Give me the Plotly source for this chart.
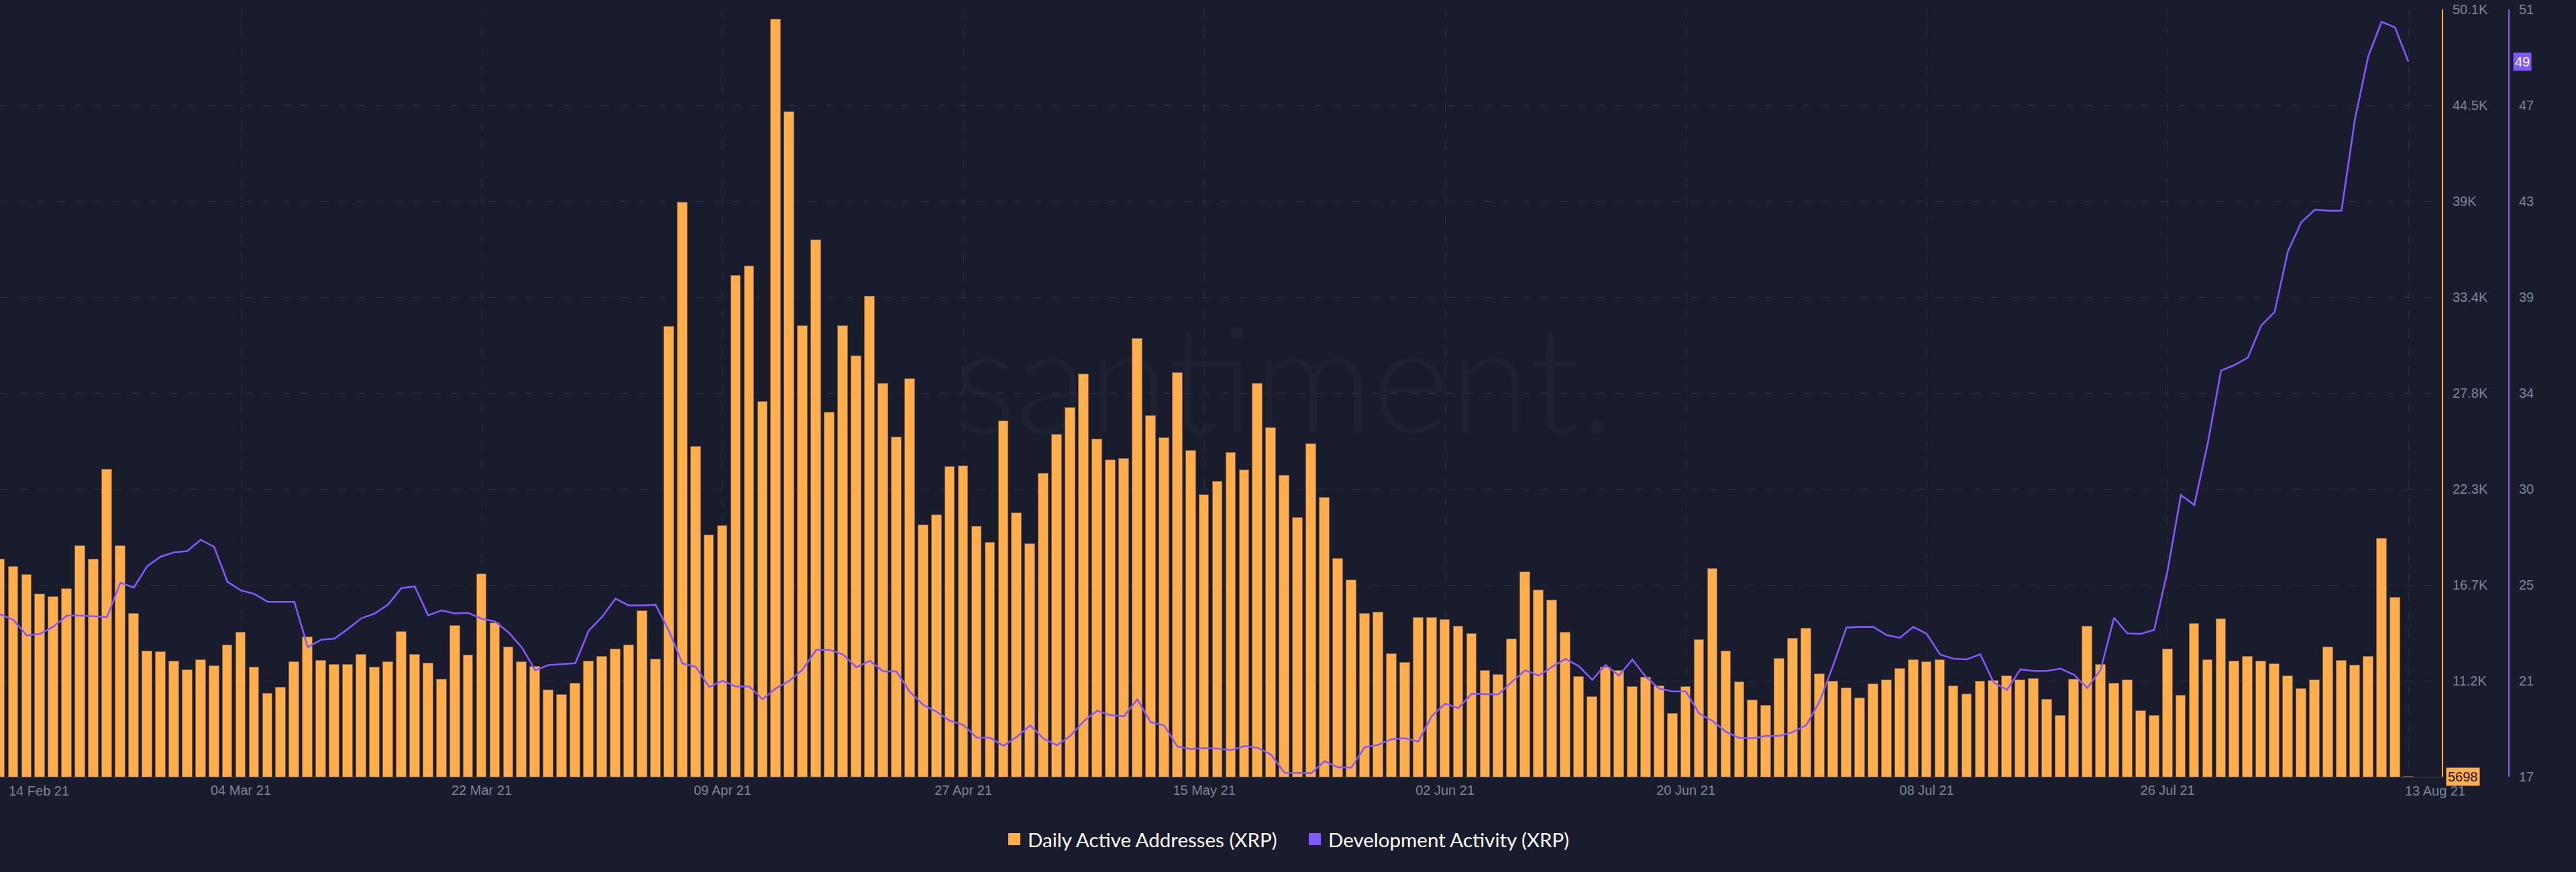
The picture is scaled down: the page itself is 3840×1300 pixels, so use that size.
import pandas as pd
import plotly.graph_objects as go

# ---------------- data ----------------
start_date = "2021-02-14"
daily_active = [
    # Feb 14-28
    18291, 17860, 17396, 16253, 16104, 16584, 19037, 18258, 23461, 19037, 15126, 12956, 12906, 12376, 11879,
    # Mar
    12459, 12111, 13304, 14033, 12011, 10503, 10851, 12343, 13790, 12423, 12164, 12177, 12758, 12035, 12332,
    14100, 12771, 12242, 11338, 14449, 12719, 17418, 14591, 13197, 12319, 12061, 10719, 10448, 11080, 12358, 12642,
    # Apr
    13068, 13287, 15288, 12474, 31742, 38911, 24776, 19660, 20209, 34691, 35240, 27378, 49519, 44172, 31771,
    36743, 26771, 31771, 30037, 33477, 28447, 25354, 28707, 20267, 20845, 23620, 23649, 20180, 19255, 26250,
    # May
    20960, 19183, 23239, 25487, 27030, 28972, 25201, 24001, 24096, 31029, 26572, 25296, 29048, 24573, 22001,
    22782, 24439, 23430, 28439, 25868, 23106, 20668, 24934, 21830, 18306, 17088, 15145, 15202, 12810, 12293, 14901,
    # Jun
    14901, 14797, 14397, 13958, 11816, 11584, 13636, 17547, 16488, 15895, 14036, 11467, 10332, 12022, 11842,
    10887, 11455, 10938, 9364, 10887, 13610, 17727, 12965, 11183, 10138, 9802, 12539, 13700, 14294, 11648,
    # Jul
    11196, 10822, 10254, 11054, 11287, 11945, 12461, 12332, 12461, 10925, 10474, 11209, 11261, 11506, 11300,
    11377, 10151, 9222, 11313, 14397, 12164, 11075, 11277, 9485, 9225, 13069, 10410, 14543, 12433, 14803, 12375,
    # Aug 1-13
    12664, 12375, 12202, 11508, 10785, 11277, 13185, 12404, 12144, 12635, 19457, 16075, 5698,
]
dev_activity = [
    # Feb 14-28
    24.20, 23.95, 23.26, 23.33, 23.66, 24.14, 24.14, 24.12, 24.08, 25.60, 25.38, 26.33, 26.75, 26.94, 27.00,
    # Mar
    27.50, 27.19, 25.64, 25.26, 25.10, 24.75, 24.75, 24.75, 22.74, 23.07, 23.12, 23.55, 24.02, 24.23, 24.63,
    25.36, 25.43, 24.15, 24.37, 24.24, 24.26, 24.00, 23.88, 23.40, 22.73, 21.72, 21.95, 22.00, 22.03, 23.47, 24.08,
    # Apr
    24.89, 24.59, 24.59, 24.62, 23.46, 22.02, 21.87, 20.98, 21.25, 21.00, 21.00, 20.43, 20.92, 21.25, 21.76,
    22.62, 22.62, 22.42, 21.85, 22.14, 21.67, 21.67, 20.76, 20.19, 19.88, 19.48, 19.30, 18.73, 18.73, 18.37,
    # May
    18.77, 19.28, 18.68, 18.40, 18.81, 19.46, 19.93, 19.73, 19.68, 20.43, 19.42, 19.28, 18.34, 18.23, 18.27,
    18.25, 18.18, 18.36, 18.28, 17.98, 17.18, 17.18, 17.16, 17.69, 17.42, 17.41, 18.31, 18.41, 18.66, 18.71, 18.56,
    # Jun
    19.68, 20.24, 20.04, 20.68, 20.66, 20.65, 21.21, 21.72, 21.48, 21.87, 22.22, 21.90, 21.30, 21.95, 21.48,
    22.19, 21.43, 20.91, 20.78, 20.78, 19.80, 19.47, 18.99, 18.72, 18.71, 18.81, 18.81, 18.98, 19.29, 20.34,
    # Jul
    21.92, 23.61, 23.64, 23.64, 23.28, 23.16, 23.64, 23.33, 22.42, 22.23, 22.20, 22.43, 21.18, 20.85, 21.76,
    21.69, 21.69, 21.79, 21.52, 20.93, 21.74, 24.04, 23.35, 23.33, 23.51, 26.12, 29.48, 29.04, 31.76, 35.00, 35.24,
    # Aug 1-13
    35.57, 36.99, 37.59, 40.29, 41.57, 42.12, 42.08, 42.08, 46.11, 48.92, 50.45, 50.20, 48.68,
]
dates = pd.date_range(start_date, periods=len(daily_active), freq="D")

x_tick_dates = ["2021-02-14", "2021-03-04", "2021-03-22", "2021-04-09", "2021-04-27", "2021-05-15",
                "2021-06-02", "2021-06-20", "2021-07-08", "2021-07-26", "2021-08-13"]
x_tick_text = ["", "04 Mar 21", "22 Mar 21", "09 Apr 21", "27 Apr 21", "15 May 21",
               "02 Jun 21", "20 Jun 21", "08 Jul 21", "26 Jul 21", ""]
daa_range = [5698, 50098]
daa_tick_vals = [11248, 16798, 22348, 27898, 33448, 38998, 44548, 50098]
daa_tick_text = ["11.2K", "16.7K", "22.3K", "27.8K", "33.4K", "39K", "44.5K", "50.1K"]
dev_range = [17, 51]
dev_tick_vals = [17, 21.25, 25.5, 29.75, 34, 38.25, 42.5, 46.75, 51]
dev_tick_text = ["17", "21", "25", "30", "34", "39", "43", "47", "51"]

# ---------------- style ----------------
W, H = 3840, 1300
ML, MR, MT, MB = 0, 60, 14, 142
PW = W - ML - MR
PH = H - MT - MB
PLOT_RIGHT = 3640
DEV_AXIS_X = 3740
BG = "#191c2c"
GRID = "#2a2e41"
ORANGE = "#ffad4d"
PURPLE = "#8358ff"
TICK_COL = "#7d859b"
TICK_FONT = dict(family="Liberation Sans, Arial, sans-serif", size=20, color=TICK_COL)


def px_x(px):
    return (px - ML) / PW


def px_y(py):
    return (MT + PH - py) / PH


fig = go.Figure()
fig.add_trace(go.Bar(
    x=dates, y=daily_active, name="Daily Active Addresses (XRP)",
    marker=dict(color=ORANGE, line=dict(color="#8c6034", width=1)),
    width=0.74 * 86400000, yaxis="y", showlegend=False,
))
fig.add_trace(go.Scatter(
    x=dates, y=dev_activity, name="Development Activity (XRP)", mode="lines",
    line=dict(color=PURPLE, width=2.6), yaxis="y2", showlegend=False,
))

fig.update_layout(
    width=W, height=H,
    margin=dict(l=ML, r=MR, t=MT, b=MB, autoexpand=False),
    paper_bgcolor=BG, plot_bgcolor=BG,
    bargap=0,
    xaxis=dict(
        domain=[0, px_x(PLOT_RIGHT)],
        range=["2021-02-14", "2021-08-15 12:00"],
        tickvals=x_tick_dates, ticktext=x_tick_text,
        showgrid=True, gridcolor=GRID, griddash="14px,14px", gridwidth=1,
        showline=True, linecolor=GRID, linewidth=2,
        ticks="", tickfont=TICK_FONT, ticklabelstandoff=1,
        zeroline=False, automargin=False,
    ),
    yaxis=dict(
        side="right", range=daa_range,
        tickvals=daa_tick_vals, ticktext=daa_tick_text,
        showgrid=True, gridcolor=GRID, griddash="13px,15px", gridwidth=1,
        showline=True, linecolor=ORANGE, linewidth=2,
        ticks="", tickfont=TICK_FONT, ticklabelstandoff=10,
        zeroline=False, automargin=False,
    ),
    yaxis2=dict(
        side="right", overlaying="y", anchor="free", position=px_x(DEV_AXIS_X),
        range=dev_range, tickvals=dev_tick_vals, ticktext=dev_tick_text,
        showgrid=False, showline=True, linecolor=PURPLE, linewidth=2,
        ticks="", tickfont=TICK_FONT, ticklabelstandoff=10,
        zeroline=False, automargin=False,
    ),
)

ann = []
# watermark
ann.append(dict(text="santiment.", xref="paper", yref="paper", x=px_x(1914), y=px_y(560),
                xanchor="center", yanchor="middle", showarrow=False,
                font=dict(family="Lato, sans-serif", size=220, color="rgba(255,255,255,0.022)", weight=300)))
# first / last date labels
ann.append(dict(text="14 Feb 21", xref="paper", yref="paper", x=px_x(11), y=px_y(1179),
                xanchor="left", yanchor="middle", showarrow=False, font=TICK_FONT))
ann.append(dict(text="13 Aug 21", xref="paper", yref="paper", x=px_x(3630), y=px_y(1179),
                xanchor="center", yanchor="middle", showarrow=False, font=TICK_FONT))
# last value tags
ann.append(dict(text=str(round(dev_activity[-1])), xref="paper", yref="y2", x=px_x(3746), y=dev_activity[-1],
                xanchor="left", yanchor="middle", showarrow=False, bgcolor=PURPLE, borderpad=2,
                font=dict(family="Liberation Sans, Arial, sans-serif", size=20, color="#ffffff")))
ann.append(dict(text=str(daily_active[-1]), xref="paper", yref="y", x=px_x(3646), y=daily_active[-1],
                xanchor="left", yanchor="middle", showarrow=False, bgcolor=ORANGE, borderpad=2,
                font=dict(family="Liberation Sans, Arial, sans-serif", size=20, color="#1a1a1a")))
# legend
LEG_FONT = dict(family="Lato, sans-serif", size=29.5, color="#ffffff")
ann.append(dict(text="Daily Active Addresses (XRP)", xref="paper", yref="paper", x=px_x(1530), y=px_y(1251),
                xanchor="left", yanchor="middle", showarrow=False, font=LEG_FONT))
ann.append(dict(text="Development Activity (XRP)", xref="paper", yref="paper", x=px_x(1978), y=px_y(1251),
                xanchor="left", yanchor="middle", showarrow=False, font=LEG_FONT))
fig.update_layout(annotations=ann)

shapes = [
    dict(type="rect", xref="paper", yref="paper", x0=px_x(1503), x1=px_x(1521), y0=px_y(1260), y1=px_y(1242),
         fillcolor=ORANGE, line=dict(width=0)),
    dict(type="rect", xref="paper", yref="paper", x0=px_x(1951), x1=px_x(1969), y0=px_y(1260), y1=px_y(1242),
         fillcolor=PURPLE, line=dict(width=0)),
]
fig.update_layout(shapes=shapes)

fig.write_html("out.html", config={"displayModeBar": False},
               post_script="document.body.style.margin='0px';document.body.style.background='#191c2c';")
